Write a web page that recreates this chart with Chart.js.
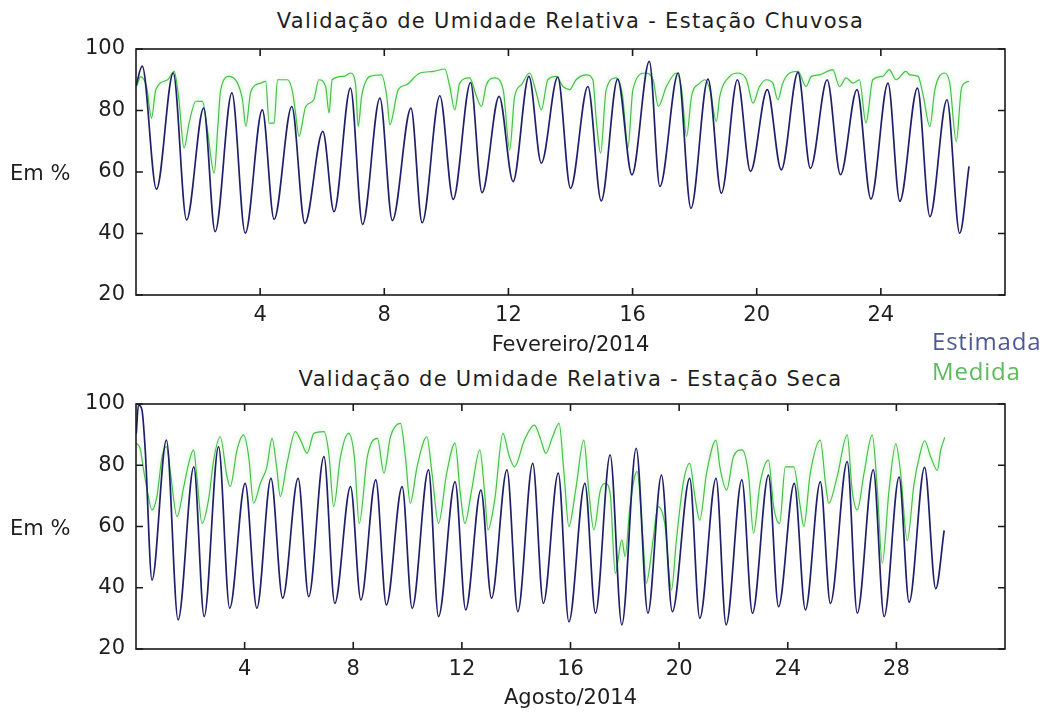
<!DOCTYPE html>
<html>
<head>
<meta charset="utf-8">
<script src="https://cdn.jsdelivr.net/npm/chart.js@4.4.1/dist/chart.umd.min.js"></script>
<style>
  body { margin: 0; background: #fff; width: 1046px; height: 713px; position: relative; overflow: hidden; font-family: "DejaVu Sans", sans-serif; color: #1e1e1e; }
  canvas { position: absolute; left: 0; }
  .txt { position: absolute; white-space: nowrap; font-size: 21px; line-height: 24px; }
  .title { left: 136px; width: 869px; text-align: center; letter-spacing: 1.3px; }
  .leg { font-family: "Open Sans", sans-serif; font-size: 24px; line-height: 28px; left: 932px; letter-spacing: 0.8px; }
</style>
</head>
<body>
<div class="txt title" style="top:9px">Validação de Umidade Relativa - Estação Chuvosa</div>
<div class="txt title" style="top:367px">Validação de Umidade Relativa - Estação Seca</div>
<canvas id="fev" width="1046" height="360" style="top:0"></canvas>
<canvas id="ago" width="1046" height="353" style="top:360px"></canvas>
<div class="txt" style="left:10px;top:161px">Em %</div>
<div class="txt" style="left:10px;top:516px">Em %</div>
<div class="txt leg" style="top:327px;color:#4f5996">Estimada</div>
<div class="txt leg" style="top:357px;color:#5cb95c">Medida</div>
<script>
// eixos
const ticksY = [20, 40, 60, 80, 100];
const fevTicksX = [4, 8, 12, 16, 20, 24];
const agoTicksX = [4, 8, 12, 16, 20, 24, 28];

// Fevereiro/2014 - estação chuvosa [dia, %]
const fevEstimada = [
  [0.0, 88], [0.2, 94.4], [0.66, 54.4], [1.2, 92.2], [1.63, 44.4], [2.18, 80.8], [2.55, 40.6],
  [3.09, 85.7], [3.52, 40.1], [4.07, 80.2], [4.45, 44.6], [5.02, 81.3], [5.44, 43.3], [6.02, 73.2],
  [6.38, 47.1], [6.91, 87.3], [7.30, 43.0], [7.86, 84.0], [8.26, 44.2], [8.86, 80.8], [9.22, 43.5],
  [9.79, 84.8], [10.22, 51.1], [10.78, 89.1], [11.15, 53.3], [11.70, 84.6], [12.15, 56.9], [12.66, 91.1],
  [13.06, 62.9], [13.59, 90.9], [14.0, 54.7], [14.56, 87.8], [14.99, 50.6], [15.52, 90.2], [15.98, 59.1],
  [16.54, 96.0], [16.88, 55.3], [17.47, 92.2], [17.88, 48.2], [18.43, 90.2], [18.86, 53.1], [19.38, 90.0],
  [19.80, 60.2], [20.34, 86.8], [20.79, 60.7], [21.33, 92.4], [21.73, 61.2], [22.27, 90.0], [22.70, 59.1],
  [23.23, 86.8], [23.68, 51.2], [24.23, 88.9], [24.61, 50.5], [25.18, 87.3], [25.58, 45.5], [26.13, 83.5],
  [26.54, 40.1], [26.84, 61.8]
];
const fevMedida = [
  [0.03, 88], [0.15, 91], [0.35, 87.3], [0.50, 77.5], [0.64, 86.8], [1.02, 90.0], [1.23, 92.7],
  [1.37, 84.6], [1.55, 67.8], [1.71, 75.9], [1.93, 83.0], [2.14, 83.0], [2.30, 73.7], [2.52, 59.6],
  [2.63, 73.7], [2.73, 86.8], [3.0, 91.1], [3.27, 88.9], [3.43, 83.5], [3.54, 74.8], [3.70, 86.2],
  [4.02, 88.9], [4.18, 89.5], [4.29, 75.9], [4.45, 75.9], [4.56, 90.0], [4.88, 90.0], [5.04, 86.2],
  [5.14, 79.2], [5.25, 71.6], [5.47, 81.3], [5.73, 83.5], [5.89, 90.0], [6.11, 87.8], [6.22, 79.2],
  [6.32, 90.0], [6.70, 91.1], [6.91, 92.2], [7.07, 88.9], [7.16, 74.8], [7.27, 84.6], [7.54, 91.1],
  [7.91, 91.6], [8.08, 84.6], [8.18, 75.4], [8.45, 86.8], [8.72, 88.4], [9.15, 92.2], [9.58, 92.7],
  [9.95, 93.5], [10.11, 87.8], [10.27, 80.2], [10.43, 88.9], [10.75, 90.6], [10.97, 84.6], [11.13, 81.3],
  [11.29, 88.4], [11.56, 90.6], [11.83, 86.8], [12.04, 67.2], [12.20, 84.6], [12.42, 88.4], [12.68, 92.2],
  [12.90, 85.7], [13.06, 80.2], [13.27, 90.0], [13.54, 91.1], [13.76, 87.8], [13.97, 86.8], [14.18, 90.0],
  [14.51, 91.6], [14.72, 90.0], [14.83, 77.0], [14.97, 66.1], [15.15, 86.8], [15.47, 90.6], [15.68, 84.6],
  [15.85, 67.8], [16.01, 86.8], [16.40, 92.2], [16.66, 90.0], [16.83, 81.3], [17.09, 87.8], [17.41, 92.2],
  [17.58, 86.8], [17.74, 71.6], [17.90, 84.6], [18.17, 88.9], [18.33, 90.0], [18.49, 86.8], [18.70, 76.4],
  [18.81, 84.6], [19.13, 91.1], [19.40, 92.2], [19.67, 90.0], [19.88, 82.4], [20.09, 87.8], [20.31, 90.0],
  [20.52, 88.9], [20.68, 83.5], [20.84, 88.9], [21.06, 92.2], [21.33, 92.7], [21.59, 87.8], [21.76, 91.1],
  [22.02, 91.6], [22.45, 93.3], [22.67, 87.8], [22.88, 90.6], [23.10, 88.9], [23.31, 90.0], [23.52, 75.9],
  [23.74, 90.0], [24.06, 91.1], [24.27, 93.3], [24.49, 90.0], [24.81, 92.7], [24.93, 91.6], [25.20, 91.1],
  [25.36, 85.1], [25.58, 74.8], [25.74, 86.8], [26.06, 92.2], [26.22, 88.9], [26.43, 69.9], [26.59, 86.8],
  [26.70, 88.9], [26.84, 89.5]
];

// Agosto/2014 - estação seca [dia, %]
const agoEstimada = [
  [0.01, 90.4], [0.09, 99.7], [0.22, 98.0], [0.34, 85.0], [0.59, 42.5], [1.12, 88.2], [1.55, 29.5],
  [2.13, 79.5], [2.51, 30.6], [3.04, 86.1], [3.45, 33.3], [4.02, 74.1], [4.45, 33.3], [4.97, 75.7],
  [5.40, 36.6], [5.97, 75.7], [6.36, 37.1], [6.92, 82.8], [7.32, 34.9], [7.90, 73.0], [8.28, 36.0],
  [8.83, 75.2], [9.22, 34.4], [9.80, 73.0], [10.17, 33.3], [10.77, 78.5], [11.14, 30.6], [11.75, 74.6],
  [12.14, 32.8], [12.70, 71.9], [13.09, 36.6], [13.66, 78.5], [14.06, 32.2], [14.61, 80.6], [15.0, 34.9],
  [15.55, 77.4], [15.94, 28.9], [16.53, 74.1], [16.92, 31.7], [17.46, 83.4], [17.89, 27.9], [18.42, 85.5],
  [18.85, 31.7], [19.35, 76.8], [19.75, 32.2], [20.39, 75.7], [20.76, 30.0], [21.36, 75.7], [21.73, 27.9],
  [22.31, 75.2], [22.70, 31.7], [23.29, 76.8], [23.66, 33.8], [24.24, 74.1], [24.65, 32.8], [25.20, 74.6],
  [25.57, 34.9], [26.19, 81.2], [26.56, 31.7], [27.15, 78.5], [27.55, 30.6], [28.10, 76.1], [28.47, 35.3],
  [29.04, 79.3], [29.45, 39.7], [29.76, 58.7]
];
const agoMedida = [
  [0.01, 87.2], [0.15, 85.5], [0.28, 78.5], [0.41, 71.9], [0.59, 65.4], [0.77, 69.8], [0.96, 82.8],
  [1.12, 86.1], [1.27, 77.4], [1.51, 63.2], [1.76, 73.0], [1.94, 80.6], [2.12, 85.0], [2.24, 76.3],
  [2.43, 61.0], [2.67, 68.7], [2.86, 81.7], [3.10, 89.3], [3.35, 76.3], [3.47, 73.0], [3.72, 85.0],
  [3.96, 89.9], [4.15, 82.8], [4.33, 67.6], [4.58, 74.1], [4.82, 79.5], [5.01, 88.8], [5.19, 78.5],
  [5.31, 69.8], [5.56, 80.6], [5.87, 91.0], [6.06, 88.2], [6.30, 83.9], [6.55, 90.4], [6.92, 91.0],
  [7.10, 83.9], [7.28, 66.5], [7.53, 82.8], [7.83, 90.4], [8.04, 82.8], [8.22, 61.0], [8.52, 82.8],
  [8.89, 88.8], [9.13, 77.4], [9.37, 89.3], [9.74, 93.7], [9.92, 82.8], [10.10, 67.6], [10.35, 79.5],
  [10.71, 89.3], [10.90, 77.4], [11.14, 61.0], [11.44, 77.4], [11.75, 87.2], [11.93, 71.9], [12.11, 61.0],
  [12.36, 71.9], [12.66, 85.0], [12.84, 70.8], [12.96, 58.9], [13.21, 68.7], [13.51, 90.4], [13.75, 82.8],
  [13.94, 79.5], [14.30, 88.2], [14.67, 93.1], [14.91, 88.2], [15.09, 83.9], [15.34, 89.3], [15.58, 93.7],
  [15.76, 77.4], [15.94, 60.0], [16.19, 71.9], [16.49, 88.2], [16.67, 71.9], [16.86, 58.9], [17.10, 71.9],
  [17.28, 74.1], [17.46, 70.8], [17.65, 44.7], [17.89, 55.6], [18.01, 50.2], [18.19, 66.5], [18.45, 78.0],
  [18.67, 55.6], [18.79, 41.5], [19.04, 55.6], [19.22, 66.5], [19.47, 61.0], [19.72, 39.3], [19.90, 55.6],
  [20.15, 74.1], [20.39, 80.6], [20.58, 69.8], [20.76, 62.1], [21.01, 77.4], [21.36, 88.2], [21.50, 79.5],
  [21.75, 71.9], [22.0, 82.8], [22.31, 85.0], [22.55, 77.4], [22.74, 57.8], [22.98, 74.1], [23.29, 81.7],
  [23.48, 66.5], [23.70, 61.0], [23.91, 79.5], [24.22, 79.5], [24.46, 66.5], [24.59, 60.0], [24.83, 77.4],
  [25.20, 88.2], [25.39, 74.1], [25.51, 67.6], [25.82, 76.3], [26.19, 89.9], [26.37, 71.9], [26.56, 65.4],
  [26.81, 77.4], [27.11, 89.9], [27.30, 71.9], [27.48, 48.0], [27.73, 71.9], [27.98, 87.0], [28.16, 77.2],
  [28.40, 55.4], [28.65, 73.9], [28.84, 82.6], [29.04, 88.0], [29.27, 82.6], [29.51, 78.3], [29.63, 84.8],
  [29.78, 89.1]
];

Chart.defaults.font.family = '"DejaVu Sans", sans-serif';
Chart.defaults.color = '#1e1e1e';

// moldura com marcas de escala para dentro, nos quatro lados
const frame = {
  id: 'frame',
  beforeDatasetDraw(chart, args) {
    if (args.index === 1) {
      chart.ctx.save();
      chart.ctx.shadowColor = 'rgba(130, 225, 130, 0.7)';
      chart.ctx.shadowBlur = 5;
    }
  },
  afterDatasetDraw(chart, args) {
    if (args.index === 1) chart.ctx.restore();
  },
  afterDraw(chart) {
    const { ctx, chartArea: a, scales: { x, y } } = chart;
    ctx.save();
    ctx.strokeStyle = '#1a1a1a';
    ctx.lineWidth = 1.6;
    ctx.strokeRect(a.left, a.top, a.right - a.left, a.bottom - a.top);
    ctx.beginPath();
    x.ticks.forEach(t => {
      const px = x.getPixelForValue(t.value);
      ctx.moveTo(px, a.bottom); ctx.lineTo(px, a.bottom - 7);
      ctx.moveTo(px, a.top); ctx.lineTo(px, a.top + 7);
    });
    y.ticks.forEach(t => {
      const py = y.getPixelForValue(t.value);
      ctx.moveTo(a.left, py); ctx.lineTo(a.left + 7, py);
      ctx.moveTo(a.right, py); ctx.lineTo(a.right - 7, py);
    });
    ctx.stroke();
    ctx.restore();
  }
};

function makeChart(id, estimada, medida, xMax, xTicks, xTitle, padTop, xHeight) {
  const ctx = document.getElementById(id).getContext('2d');
  return new Chart(ctx, {
    type: 'line',
    data: {
      datasets: [{
        label: 'Estimada',
        data: estimada.map(p => ({ x: p[0], y: p[1] })),
        borderColor: '#20206a',
        borderWidth: 1.7,
        pointRadius: 0,
        cubicInterpolationMode: 'monotone'
      }, {
        label: 'Medida',
        data: medida.map(p => ({ x: p[0], y: p[1] })),
        borderColor: '#48bf48',
        borderWidth: 1.2,
        pointRadius: 0,
        cubicInterpolationMode: 'monotone'
      }]
    },
    options: {
      responsive: false,
      animation: false,
      layout: { padding: { top: padTop, right: 41, left: 0, bottom: 0 } },
      scales: {
        x: {
          type: 'linear',
          min: 0,
          max: xMax,
          grid: { display: false, drawTicks: false },
          border: { display: false },
          afterBuildTicks: s => { s.ticks = xTicks.map(v => ({ value: v })); },
          afterFit: s => { s.height = xHeight; },
          ticks: { font: { size: 21 }, padding: 8 },
          title: { display: true, text: xTitle, font: { size: 21 }, padding: { top: 0, bottom: 2 } }
        },
        y: {
          min: 20,
          max: 100,
          grid: { display: false, drawTicks: false },
          border: { display: false },
          afterBuildTicks: s => { s.ticks = ticksY.map(v => ({ value: v })); },
          afterFit: s => { s.width = 136; },
          ticks: { font: { size: 21 }, padding: 11 }
        }
      },
      plugins: {
        legend: { display: false },
        tooltip: { enabled: false }
      }
    },
    plugins: [frame]
  });
}

makeChart('fev', fevEstimada, fevMedida, 28, fevTicksX, 'Fevereiro/2014', 49, 65);
makeChart('ago', agoEstimada, agoMedida, 32, agoTicksX, 'Agosto/2014', 44, 64);
</script>
</body>
</html>
